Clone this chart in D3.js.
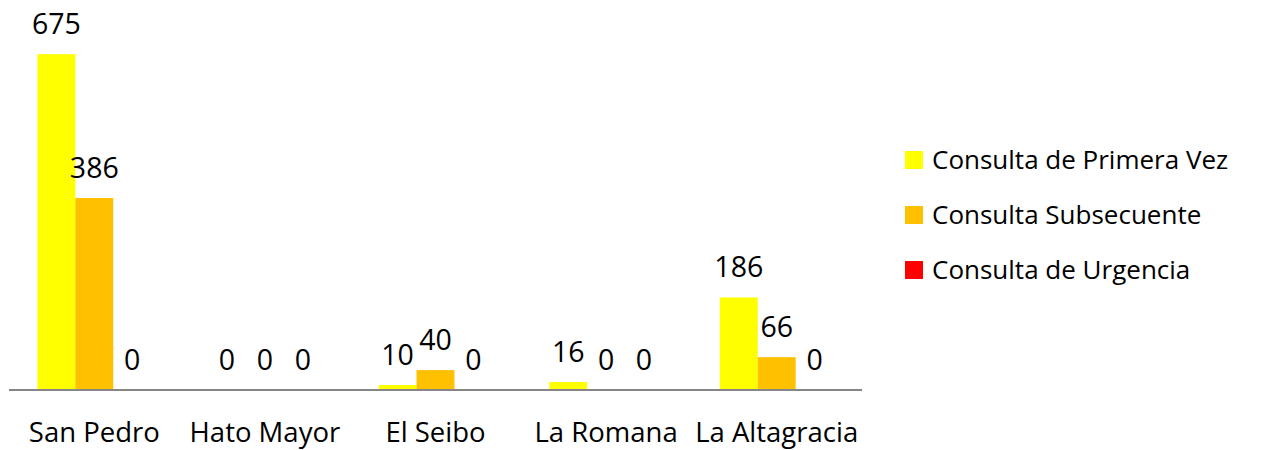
<!DOCTYPE html>
<html><head><meta charset="utf-8">
<script src="https://cdn.jsdelivr.net/npm/d3@7"></script>
<style>body{margin:0;background:#fff}svg{display:block}</style>
</head><body>
<svg id="c" width="1261" height="450"></svg>
<script>
const categories = ["San Pedro","Hato Mayor","El Seibo","La Romana","La Altagracia"];
const seriesNames = ["Consulta de Primera Vez","Consulta Subsecuente","Consulta de Urgencia"];
const primeraVez = [675, 0, 10, 16, 186];
const subsecuente = [386, 0, 40, 0, 66];
const urgencia = [0, 0, 0, 0, 0];
const colors = ["#FFFF00","#FFC000","#FF0000"];

const series = [primeraVez, subsecuente, urgencia];
const FONT = "'Open Sans', 'Noto Sans', sans-serif";
const svg = d3.select("#c");
const x0 = d3.scaleBand().domain(categories).range([9, 862]).padding(0);
const bw = x0.bandwidth();
const barW = bw / 4.5;
const x1 = d3.scaleBand().domain(d3.range(3)).range([barW*0.75, bw - barW*0.75]).padding(0);
const y = d3.scaleLinear().domain([0, 700]).range([390, 390 - 700*0.4975]);

const g = svg.append("g");
categories.forEach((c, i) => {
  const gg = g.append("g").attr("transform", `translate(${x0(c)},0)`);
  series.forEach((s, k) => {
    const v = s[i];
    if (v > 0) {
      gg.append("rect").attr("x", x1(k)).attr("width", x1.bandwidth())
        .attr("y", y(v)).attr("height", y(0) - y(v)).attr("fill", colors[k]);
    }
  });
  series.forEach((s, k) => {
    const v = s[i];
    gg.append("text").attr("x", x1(k) + x1.bandwidth()/2).attr("y", y(v) - 20)
      .attr("text-anchor", "middle").attr("font-family", FONT).attr("font-size", 28.5)
      .attr("fill", "#000").text(v);
  });
});

svg.append("line").attr("x1", 9).attr("x2", 862).attr("y1", 390).attr("y2", 390)
  .attr("stroke", "#868686").attr("stroke-width", 2);

categories.forEach(c => {
  svg.append("text").attr("x", x0(c) + bw/2).attr("y", 442).attr("text-anchor", "middle")
    .attr("font-family", FONT).attr("font-size", 27.5).attr("fill", "#000").text(c);
});

const leg = svg.append("g");
seriesNames.forEach((n, k) => {
  const ty = 151 + k*55;
  leg.append("rect").attr("x", 905).attr("y", ty).attr("width", 18).attr("height", 18).attr("fill", colors[k]);
  leg.append("text").attr("x", 932).attr("y", ty + 18).attr("font-family", FONT)
    .attr("font-size", 26).attr("fill", "#000").text(n);
});
</script>
</body></html>
